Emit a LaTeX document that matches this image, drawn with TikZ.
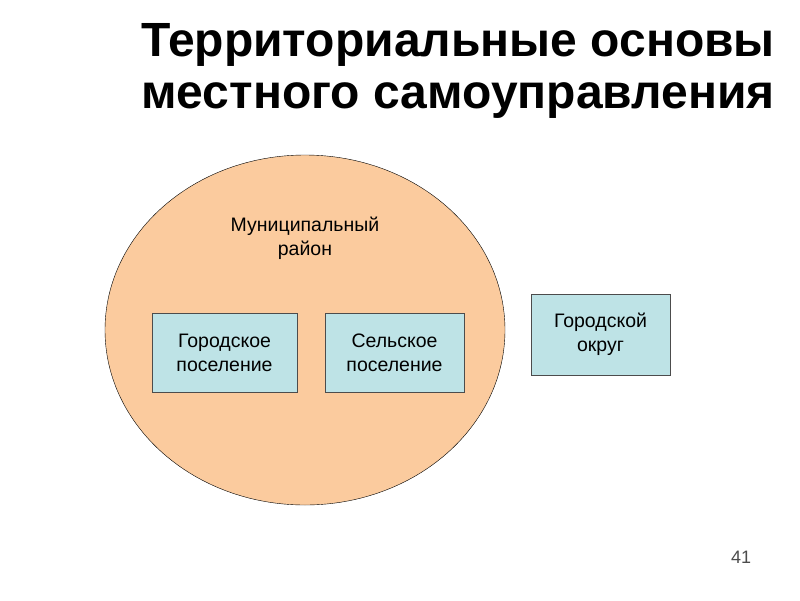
\documentclass[tikz,border=0pt]{standalone}
\usepackage{fontspec}
\usetikzlibrary{shapes.geometric}
\setmainfont{Liberation Sans}
\definecolor{boxc}{HTML}{BEE3E6}
\definecolor{ellc}{HTML}{FBCB9E}
\begin{document}
\begin{tikzpicture}[x=1pt,y=-1pt,
  box/.style={draw=black!70,fill=boxc,align=center,font=\fontsize{19.5}{24}\selectfont,inner sep=0pt}]
\useasboundingbox (0,0) rectangle (800,600);
\node[font=\bfseries\fontsize{48}{52}\selectfont,align=center] (title) at (458,71) {Территориальные основы\\местного самоуправления};
\node[draw=black,fill=ellc,ellipse,minimum width=400,minimum height=350,inner sep=0pt] (md) at (305,330) {};
\node[align=center,font=\fontsize{19.5}{24}\selectfont] (mdl) at (305,238) {Муниципальный\\район};
\node[box,minimum width=145,minimum height=79] (b1) at (224.5,352.5) {Городское\\поселение};
\node[box,minimum width=139,minimum height=79] (b2) at (394.5,352.5) {Сельское\\поселение};
\node[box,minimum width=139,minimum height=81] (b3) at (600.5,334.5) {Городской\\округ};
\node[font=\fontsize{18}{20}\selectfont,text=black!70] (pg) at (741,557) {41};
\end{tikzpicture}
\end{document}
